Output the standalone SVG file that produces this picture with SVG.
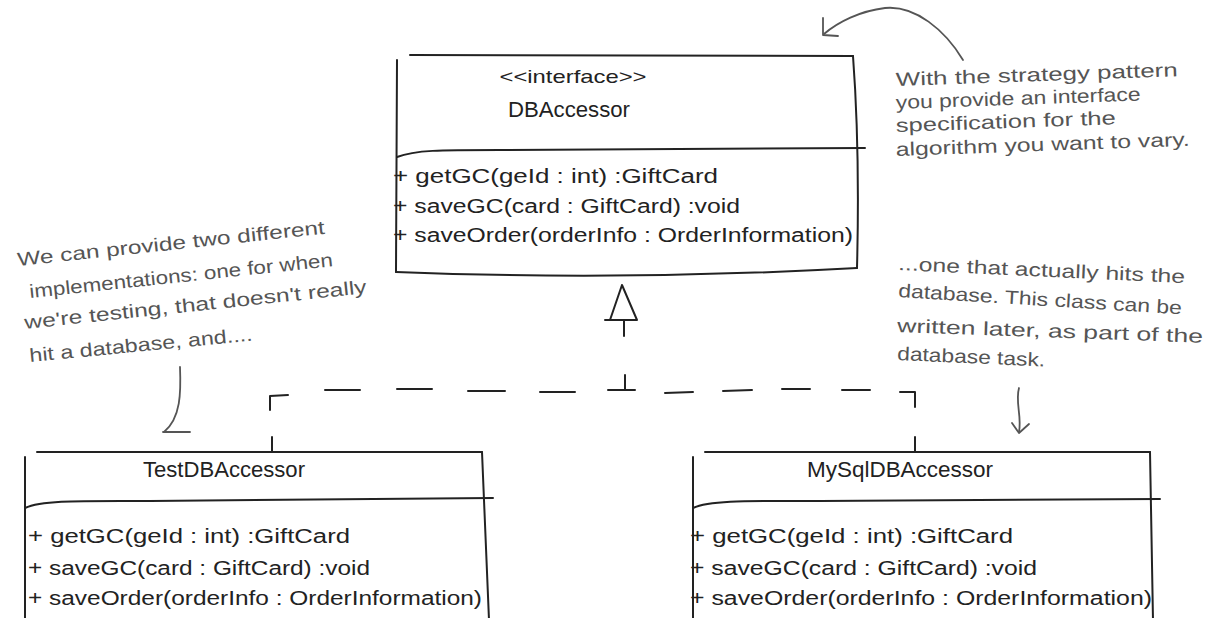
<svg xmlns="http://www.w3.org/2000/svg" width="1210" height="618" viewBox="0 0 1210 618">
<style>
.ln{fill:none;stroke:#222;stroke-width:2;stroke-linecap:round;stroke-linejoin:round}
.al{fill:none;stroke:#555;stroke-width:1.8;stroke-linecap:round;stroke-linejoin:round}
.t{font-family:"Liberation Sans",Arial,sans-serif;fill:#222}
.m{font-size:20px}
.ttl{font-size:22px;text-anchor:middle}
.note{font-family:"Liberation Sans",Arial,sans-serif;fill:#555;font-size:19px}
</style>
<rect width="1210" height="618" fill="#fff"/>

<g id="DBAccessor">
<path class="ln" d="M410,55 L853,56"/>
<path class="ln" d="M397,60 L396,272"/>
<path class="ln" d="M853,56 Q860,150 857,268"/>
<path class="ln" d="M396,272 Q625,281 857,268"/>
<path class="ln" d="M397,157 C415,150 440,150 500,150 L865,148"/>
<text class="t" x="573" y="83" font-size="19" text-anchor="middle" textLength="147" lengthAdjust="spacingAndGlyphs">&lt;&lt;interface&gt;&gt;</text>
<text class="t ttl" x="569" y="117" textLength="122" lengthAdjust="spacingAndGlyphs">DBAccessor</text>
<text class="t m" x="393" y="183" textLength="325" lengthAdjust="spacingAndGlyphs">+ getGC(geId : int) :GiftCard</text>
<text class="t m" x="393" y="213" textLength="347" lengthAdjust="spacingAndGlyphs">+ saveGC(card : GiftCard) :void</text>
<text class="t m" x="393" y="242" textLength="460" lengthAdjust="spacingAndGlyphs">+ saveOrder(orderInfo : OrderInformation)</text>
</g>

<g id="TestDBAccessor">
<path class="ln" d="M37,452 L482,452"/>
<path class="ln" d="M25,457 L25,620"/>
<path class="ln" d="M482,452 L489,620"/>
<path class="ln" d="M25,508 C42,500 80,501 150,501 L493,498"/>
<text class="t ttl" x="224" y="477" textLength="162" lengthAdjust="spacingAndGlyphs">TestDBAccessor</text>
<text class="t m" x="28" y="543" textLength="322" lengthAdjust="spacingAndGlyphs">+ getGC(geId : int) :GiftCard</text>
<text class="t m" x="28" y="575" textLength="342" lengthAdjust="spacingAndGlyphs">+ saveGC(card : GiftCard) :void</text>
<text class="t m" x="28" y="605" textLength="454" lengthAdjust="spacingAndGlyphs">+ saveOrder(orderInfo : OrderInformation)</text>
</g>

<g id="MySqlDBAccessor">
<path class="ln" d="M705,452 L1150,452"/>
<path class="ln" d="M693,457 L693,620"/>
<path class="ln" d="M1150,452 L1153,620"/>
<path class="ln" d="M693,508 C710,500 750,501 820,501 L1160,499"/>
<text class="t ttl" x="900" y="477" textLength="186" lengthAdjust="spacingAndGlyphs">MySqlDBAccessor</text>
<text class="t m" x="690" y="543" textLength="323" lengthAdjust="spacingAndGlyphs">+ getGC(geId : int) :GiftCard</text>
<text class="t m" x="690" y="575" textLength="347" lengthAdjust="spacingAndGlyphs">+ saveGC(card : GiftCard) :void</text>
<text class="t m" x="690" y="605" textLength="462" lengthAdjust="spacingAndGlyphs">+ saveOrder(orderInfo : OrderInformation)</text>
</g>

<g id="connectors">
<path class="ln" d="M622,285 L610,320 L637,320 Z"/>
<path class="ln" d="M605,320 L612,320"/>
<path class="ln" d="M624,320 L624,336"/>
<path class="ln" d="M625,375 L625,390 M608,390 L635,390"/>
<path class="ln" d="M325,390 L360,390 M397,389 L432,389 M468,391 L505,391 M540,392 L575,392 M665,393 L693,392 M723,391 L752,390 M782,389 L810,389 M842,390 L870,390"/>
<path class="ln" d="M288,395 L270,396 L270,410"/>
<path class="ln" d="M900,392 L915,392 L915,407"/>
<path class="ln" d="M272,437 L272,452"/>
<path class="ln" d="M915,437 L915,452"/>
</g>

<g id="note-strategy">
<path class="al" d="M963,60 C945,30 915,5 885,8 C860,11 838,22 824,34"/>
<path class="al" d="M823,18 L823,35 L838,36"/>
<text class="note" x="896" y="86" transform="rotate(-2 896 86)" textLength="282" lengthAdjust="spacingAndGlyphs">With the strategy pattern</text>
<text class="note" x="896" y="109" transform="rotate(-2 896 109)" textLength="245" lengthAdjust="spacingAndGlyphs">you provide an interface</text>
<text class="note" x="896" y="132" transform="rotate(-2 896 132)" textLength="220" lengthAdjust="spacingAndGlyphs">specification for the</text>
<text class="note" x="896" y="156" transform="rotate(-2 896 156)" textLength="294" lengthAdjust="spacingAndGlyphs">algorithm you want to vary.</text>
</g>

<g id="note-test">
<path class="al" d="M180,367 C181,392 181,418 164,432"/>
<path class="al" d="M163,432 L190,432"/>
<text class="note" x="18" y="266" transform="rotate(-6 18 266)" textLength="309" lengthAdjust="spacingAndGlyphs">We can provide two different</text>
<text class="note" x="30" y="298" transform="rotate(-6 30 298)" textLength="305" lengthAdjust="spacingAndGlyphs">implementations: one for when</text>
<text class="note" x="25" y="329" transform="rotate(-6 25 329)" textLength="344" lengthAdjust="spacingAndGlyphs">we're testing, that doesn't really</text>
<text class="note" x="30" y="362" transform="rotate(-5.5 30 362)" textLength="224" lengthAdjust="spacingAndGlyphs">hit a database, and....</text>
</g>

<g id="note-mysql">
<path class="al" d="M1019,388 C1015,402 1022,416 1019,432"/>
<path class="al" d="M1012,423 L1019,433 L1029,424"/>
<text class="note" x="898" y="270" transform="rotate(2.6 898 270)" textLength="287" lengthAdjust="spacingAndGlyphs">...one that actually hits the</text>
<text class="note" x="898" y="297" transform="rotate(3.5 898 297)" textLength="284" lengthAdjust="spacingAndGlyphs">database. This class can be</text>
<text class="note" x="897" y="332" transform="rotate(2 897 332)" textLength="306" lengthAdjust="spacingAndGlyphs">written later, as part of the</text>
<text class="note" x="897" y="360" transform="rotate(2.5 897 360)" textLength="148" lengthAdjust="spacingAndGlyphs">database task.</text>
</g>
</svg>
